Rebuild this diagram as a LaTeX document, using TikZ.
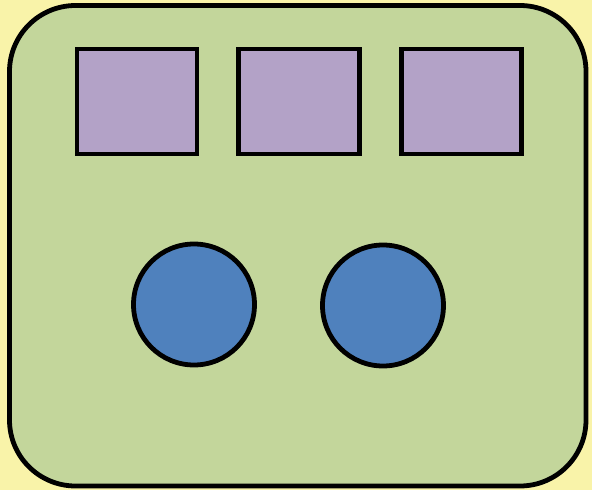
\documentclass[tikz,border=0pt]{standalone}
\begin{document}
\begin{tikzpicture}[x=1pt,y=-1pt,
  outline/.style={draw=black,line width=4.8pt},
  frame/.style={outline,fill=greenfill,rounded corners=66pt},
  slot/.style={outline,fill=purplefill},
  disc/.style={outline,fill=bluefill}]
\definecolor{bgyellow}{HTML}{F9F3A9}
\definecolor{greenfill}{HTML}{C3D69B}
\definecolor{purplefill}{HTML}{B3A2C7}
\definecolor{bluefill}{HTML}{4F81BD}
\fill[bgyellow] (0,0) rectangle (592,490);
\useasboundingbox (0,0) rectangle (592,490);
\path[frame] (9.5,5.5) rectangle (586,486);
\node[slot,minimum width=120pt,minimum height=105pt,inner sep=0pt,anchor=center] (r1) at (137,101.5) {};
\node[slot,minimum width=121pt,minimum height=105pt,inner sep=0pt,anchor=center] (r2) at (299,101.5) {};
\node[slot,minimum width=120pt,minimum height=105pt,inner sep=0pt,anchor=center] (r3) at (461.5,101.5) {};
\node[disc,circle,minimum size=121pt,inner sep=0pt] (c1) at (194,304.5) {};
\node[disc,circle,minimum size=121pt,inner sep=0pt] (c2) at (383,305.5) {};
\end{tikzpicture}
\end{document}
